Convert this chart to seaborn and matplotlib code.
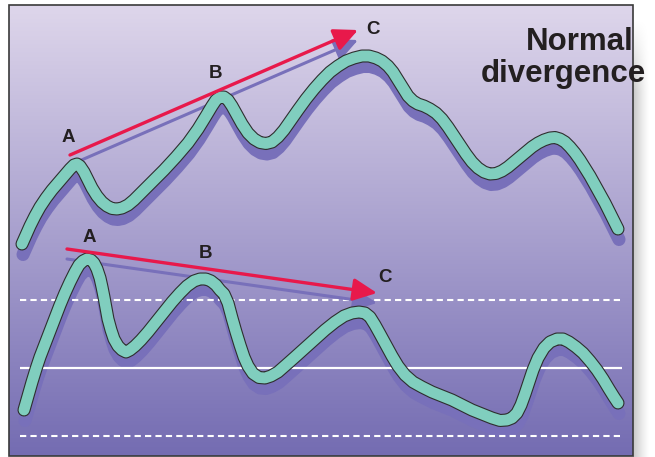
import numpy as np
import pandas as pd
import matplotlib
matplotlib.use("Agg")
import matplotlib.pyplot as plt
import seaborn as sns
from matplotlib.transforms import ScaledTranslation
from matplotlib.patches import Rectangle

# ---------------- data (y grows downward) ----------------
top_x = [22, 26, 30, 35, 40, 46, 52, 58, 64, 70, 74, 77, 80, 84, 88, 92, 97, 102, 107,
         112, 117, 122, 128, 134, 140, 152, 164, 176, 188, 198, 206, 212, 216, 220, 224,
         228, 232, 237, 242, 248, 254, 260, 266, 272, 278, 284, 291, 298, 306, 314, 322,
         330, 338, 346, 354, 362, 369, 376, 382, 388, 393, 398, 403, 408, 413, 418, 424,
         430, 436, 442, 448, 454, 460, 466, 472, 478, 484, 490, 496, 502, 508, 514, 520,
         526, 532, 538, 544, 550, 555, 560, 565, 570, 575, 580, 585, 590, 595, 600, 605,
         610, 615, 618]
top_y = [244, 235, 226, 216, 207, 198, 190, 183, 176, 169, 165, 164, 166, 172, 180, 188,
         196, 202, 206, 208.5, 209, 208, 205, 200, 194, 182, 170, 157, 143, 129, 116, 106,
         100, 97, 97, 100, 106, 115, 124, 133, 139, 142.5, 143.5, 142, 137, 130, 120, 110,
         99, 89, 80, 72, 66, 61, 58, 56, 56, 58, 61, 66, 72, 80, 88, 96, 101, 104, 106,
         109, 113, 119, 127, 136, 145, 154, 162, 168, 172, 174, 173.5, 171, 167, 162, 157,
         152, 147, 143, 140, 138, 137.5, 139, 142, 147, 153, 160, 168, 176, 185, 194, 203,
         213, 223, 229]

low_x = [24, 28, 32, 36, 40, 45, 50, 55, 60, 65, 70, 75, 79, 83, 87, 91, 94, 97, 100, 102,
         104, 106, 108, 111, 114, 118, 122, 126, 130, 135, 141, 148, 156, 164, 172, 180,
         187, 194, 200, 206, 211, 216, 220, 224, 228, 232, 236, 240, 244, 248, 253, 259,
         265, 271, 278, 286, 295, 305, 315, 325, 335, 344, 352, 359, 365, 370, 375, 380,
         386, 392, 398, 405, 413, 422, 432, 442, 452, 462, 472, 482, 492, 500, 507, 512,
         517, 521, 525, 529, 533, 538, 544, 550, 557, 563, 569, 576, 583, 590, 597, 603,
         609, 614, 618]
low_y = [410, 396, 382, 369, 357, 344, 331, 318, 305, 293, 282, 272, 265, 261, 259, 260,
         263, 269, 278, 287, 297, 308, 319, 330, 339, 346, 350, 352, 350, 346, 340, 332,
         322, 312, 302, 293, 286, 281, 279, 279, 281, 285, 290, 294, 303, 318, 332, 345,
         357, 366, 373.5, 377.5, 378, 376, 372, 365, 357, 348, 339, 330, 322, 316, 313,
         312, 313, 317, 325, 334, 345, 356, 366, 375, 382, 387, 392, 396, 400, 405, 410,
         414, 418, 420.5, 420, 418, 413, 405, 394, 382, 370, 358, 348, 342, 339, 339, 342,
         347, 353, 361, 370, 379, 389, 397, 403]

dashed_levels = [300, 436]
solid_levels = [368]
level_span = [20, 622]

top_arrow = [(70, 155), (358, 30)]
low_arrow = [(67, 249), (377, 293)]

labels = ["A", "B", "C"]
top_label_pos = [(68, 138), (216, 73), (373, 29)]
low_label_pos = [(89, 238), (205, 254), (385, 277)]

title_lines = ["Normal", "divergence"]

# ---------------- styling ----------------
sns.set_theme(style="white")
plt.rcParams['font.family'] = ['Liberation Sans', 'DejaVu Sans']

TEAL = "#80cebe"
OUTLINE = "#2e2e2e"
SHADOW = "#7870ba"
RED = "#e8194b"
TXT = "#231f20"

fig = plt.figure(figsize=(6.55, 4.57), dpi=100)
fig.patch.set_facecolor("white")
ax = fig.add_axes([0, 0, 1, 1])
ax.axis("off")

# background gradient inside frame
n = 256
top_c = np.array([222, 214, 235]) / 255
bot_c = np.array([116, 108, 178]) / 255
t = np.linspace(0, 1, n)[:, None]
grad = (top_c * (1 - t) + bot_c * t)[:, None, :]
ax.imshow(grad, extent=[9, 633, 456, 5], aspect="auto", zorder=0, interpolation="bilinear")

# right drop shadow of the frame
sh = np.zeros((n, 64, 4))
a = np.linspace(0.32, 0.0, 64) ** 1.3
fade = np.clip(np.linspace(0, 6, n), 0, 1)[:, None]
sh[..., 3] = a[None, :] * fade
ax.imshow(sh, extent=[633, 650, 457, 18], aspect="auto", zorder=0.5, interpolation="bilinear")

ax.add_patch(Rectangle((9, 5), 624, 451, fill=False, ec="#3a3a3a", lw=1.2, zorder=6))

# level lines
ax.hlines(dashed_levels, level_span[0], level_span[1], colors="white",
          linestyles=(0, (3, 2)), lw=1.5, zorder=3)
ax.hlines(solid_levels, level_span[0], level_span[1], colors="white", lw=1.6, zorder=3)

curve_shadow = ax.transData + ScaledTranslation(1 / 100, -10.5 / 100, fig.dpi_scale_trans)
arrow_shadow = ax.transData + ScaledTranslation(0 / 100, -10 / 100, fig.dpi_scale_trans)

top_df = pd.DataFrame({"x": top_x, "y": top_y})
low_df = pd.DataFrame({"x": low_x, "y": low_y})

for df in (top_df, low_df):
    sns.lineplot(data=df, x="x", y="y", sort=False, estimator=None, ax=ax,
                 color=SHADOW, lw=9.4, solid_capstyle="round", solid_joinstyle="round",
                 transform=curve_shadow, zorder=2)
    sns.lineplot(data=df, x="x", y="y", sort=False, estimator=None, ax=ax,
                 color=OUTLINE, lw=9.4, solid_capstyle="round", solid_joinstyle="round",
                 zorder=4)
    sns.lineplot(data=df, x="x", y="y", sort=False, estimator=None, ax=ax,
                 color=TEAL, lw=7.8, solid_capstyle="round", solid_joinstyle="round",
                 zorder=4.1)

style = "-|>,head_length=0.72,head_width=0.34"
for (s, e) in (top_arrow, low_arrow):
    ax.annotate("", xy=e, xytext=s, xycoords=arrow_shadow, textcoords=arrow_shadow,
                arrowprops=dict(arrowstyle=style, mutation_scale=20, lw=2.2,
                                color=SHADOW, shrinkA=0, shrinkB=0), zorder=3.5)
    ax.annotate("", xy=e, xytext=s,
                arrowprops=dict(arrowstyle=style, mutation_scale=20, lw=2.4,
                                color=RED, shrinkA=0, shrinkB=0), zorder=5)

for lab, (x, y) in zip(labels, top_label_pos):
    ax.text(x, y, lab, ha="center", va="center", fontsize=13.5, fontweight="bold",
            color=TXT, zorder=7)
for lab, (x, y) in zip(labels, low_label_pos):
    ax.text(x, y, lab, ha="center", va="center", fontsize=13.5, fontweight="bold",
            color=TXT, zorder=7)

ax.text(634, 50, title_lines[0], ha="right", va="baseline", fontsize=22.5,
        fontweight="bold", color=TXT, zorder=8)
ax.text(646, 82, title_lines[1], ha="right", va="baseline", fontsize=22.5,
        fontweight="bold", color=TXT, zorder=8)

ax.set_xlim(0, 655)
ax.set_ylim(457, 0)

fig.savefig("out.png", dpi=100)
